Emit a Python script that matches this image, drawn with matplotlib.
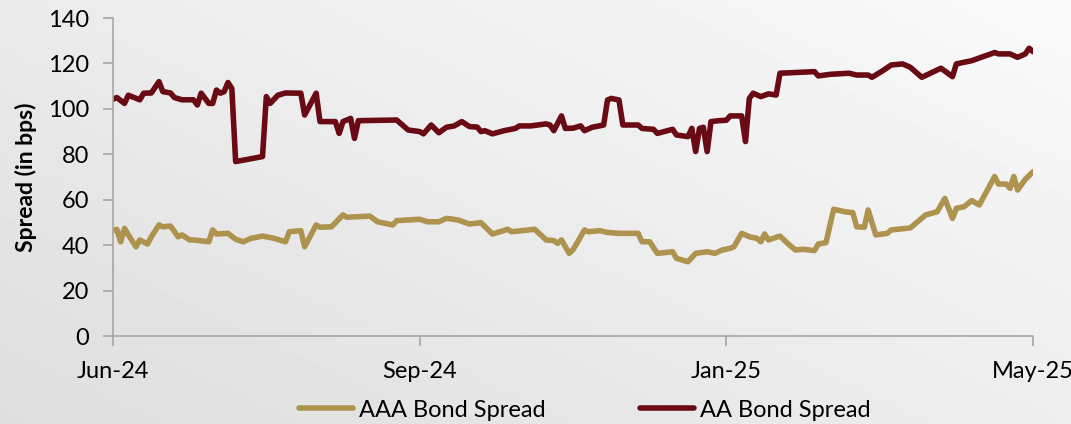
import numpy as np
import matplotlib
matplotlib.use("Agg")
import matplotlib.pyplot as plt

plt.rcParams['font.family'] = ['Lato', 'DejaVu Sans']

# trading-day index (0 = Jun-24 ... 240 = May-25) and spreads in bps
aa_day = [0, 1, 3, 4, 7, 8, 10, 12, 13, 15, 16, 18, 21, 22, 23, 25, 26, 27, 28, 29,
          30, 31, 32, 39, 40, 41, 43, 45, 49, 50, 53, 54, 58, 59, 60, 62, 63, 64, 74, 77,
          80, 81, 83, 85, 87, 89, 91, 93, 95, 96, 97, 99, 102, 105, 106, 109, 113, 114, 115, 117,
          118, 120, 122, 123, 125, 128, 129, 130, 132, 133, 137, 138, 141, 142, 146, 147, 150, 151, 152, 153,
          154, 155, 156, 158, 160, 161, 164, 165, 166, 167, 169, 171, 173, 174, 178, 183, 184, 187, 192, 194,
          197, 198, 201, 203, 206, 208, 211, 216, 219, 220, 224, 227, 230, 231, 234, 236, 238, 239, 240]
aa_spread = [104.2, 105, 102.4, 106, 104, 106.9, 107, 112, 107.6, 107, 105, 104, 104, 101.7, 106.9, 102.4, 102.4, 108.3, 106.9, 107.6,
             111.6, 109, 76.8, 79, 105.4, 102.4, 106, 107, 106.9, 97.3, 106.9, 94.4, 94.4, 89.2, 94.4, 95.8, 87, 94.8, 95.1, 90.7,
             90, 89, 92.9, 89.5, 91.9, 92.5, 94.4, 92.2, 92, 90, 90.4, 89, 90.4, 91.4, 92.5, 92.5, 93.4, 92.9, 90.4, 96.9,
             91.4, 91.5, 92.5, 90.4, 91.9, 92.9, 103.9, 104.6, 103.9, 92.9, 92.9, 91.4, 91, 89.2, 91, 88.5, 87.8, 91.4, 81.2, 91.4,
             91.9, 81.2, 94.4, 94.8, 95, 96.9, 96.9, 85.6, 104.6, 106.9, 105.4, 106.6, 106.1, 115.7, 116, 116.4, 114.5, 115.2, 115.7, 114.9,
             114.9, 113.9, 117, 119.3, 119.8, 118.3, 113.9, 117.9, 114.2, 119.8, 121.2, 123, 124.8, 124.2, 124.2, 122.7, 124.2, 126.7, 125.2]

aaa_day = [0, 1, 2, 3, 4, 6, 7, 9, 10, 12, 13, 15, 17, 18, 20, 21, 25, 26, 27, 30,
           32, 34, 36, 39, 42, 45, 46, 49, 50, 53, 54, 57, 60, 61, 67, 69, 73, 74, 77, 80,
           82, 85, 87, 90, 93, 96, 99, 103, 104, 110, 113, 115, 116, 117, 119, 120, 121, 123, 124, 127,
           129, 132, 137, 138, 140, 142, 146, 147, 150, 152, 155, 157, 159, 161, 162, 164, 166, 168, 169, 170,
           171, 174, 176, 178, 180, 183, 184, 186, 188, 191, 193, 194, 196, 197, 199, 202, 203, 207, 208, 212,
           215, 217, 219, 220, 222, 224, 226, 230, 231, 233, 234, 235, 236, 238, 240]
aaa_spread = [46.4, 47, 41.5, 47.4, 44.5, 39.3, 42.3, 40.5, 43.7, 48.9, 48.1, 48.4, 43.7, 44.5, 42.3, 42.3, 41.5, 46.7, 44.9, 45.2,
              42.6, 41.5, 43, 44, 43, 41.5, 45.9, 46.4, 39.3, 48.9, 47.9, 48.1, 53.3, 52.3, 52.8, 50.3, 48.9, 50.8, 51.1, 51.4,
              50.3, 50.3, 51.8, 51.1, 49.3, 49.9, 44.9, 47, 45.9, 47, 42.3, 42, 40.8, 42.3, 36.4, 38, 40.8, 46.7, 45.9, 46.4,
              45.6, 45.2, 45.2, 41.5, 41.5, 36.4, 37.1, 34.2, 32.7, 36.4, 37.1, 36.4, 37.9, 38.6, 39.3, 45.2, 43.7, 43, 41.5, 44.9,
              42.3, 44, 40.8, 37.9, 38.2, 37.6, 40.5, 41.1, 55.8, 54.7, 54.3, 48.1, 47.9, 55.5, 44.5, 45.2, 46.7, 47.4, 47.6, 53.3,
              54.7, 60.6, 51.8, 56.2, 56.9, 59.6, 57.7, 70.2, 66.9, 66.9, 65, 70.2, 64.3, 69, 72.3]

tick_days = [0, 80, 160, 240]
tick_labels = ["Jun-24", "Sep-24", "Jan-25", "May-25"]

fig = plt.figure(figsize=(10.71, 4.24), dpi=100)

# soft gray gradient background
bg = fig.add_axes([0, 0, 1, 1], zorder=-10)
gx, gy = np.meshgrid(np.linspace(0, 1, 200), np.linspace(0, 1, 100))
bg.imshow(0.87 + 0.06 * gx + 0.05 * gy, cmap="gray", vmin=0, vmax=1,
          origin="lower", aspect="auto", extent=[0, 1, 0, 1])
bg.axis("off")

ax = fig.add_axes([0.1055, 0.2075, 0.859, 0.75])
ax.patch.set_alpha(0)

ax.plot(aaa_day, aaa_spread, color="#AD934D", lw=4, solid_joinstyle="round",
        solid_capstyle="round", label="AAA Bond Spread")
ax.plot(aa_day, aa_spread, color="#690A14", lw=4, solid_joinstyle="round",
        solid_capstyle="round", label="AA Bond Spread")

ax.set_xlim(0, 240)
ax.set_ylim(0, 140)
ax.set_yticks(range(0, 141, 20))
ax.set_xticks(tick_days)
ax.set_xticklabels(tick_labels)

for s in ["top", "right"]:
    ax.spines[s].set_visible(False)
for s in ["left", "bottom"]:
    ax.spines[s].set_color("#a6a6a6")
    ax.spines[s].set_linewidth(1.2)
ax.tick_params(axis="both", colors="#a6a6a6", labelcolor="black", labelsize=17,
               length=7, width=1.2)
ax.tick_params(axis="x", pad=11)
ax.tick_params(axis="y", pad=10)

ax.set_ylabel("Spread (in bps)", fontsize=16.5, fontweight="bold", labelpad=8)

fig.legend(loc="center", bbox_to_anchor=(0.546, 0.033), ncol=2, frameon=False,
           fontsize=17, handlelength=2.3, handletextpad=0.25, columnspacing=4.0)

fig.savefig("out.png", dpi=100)
